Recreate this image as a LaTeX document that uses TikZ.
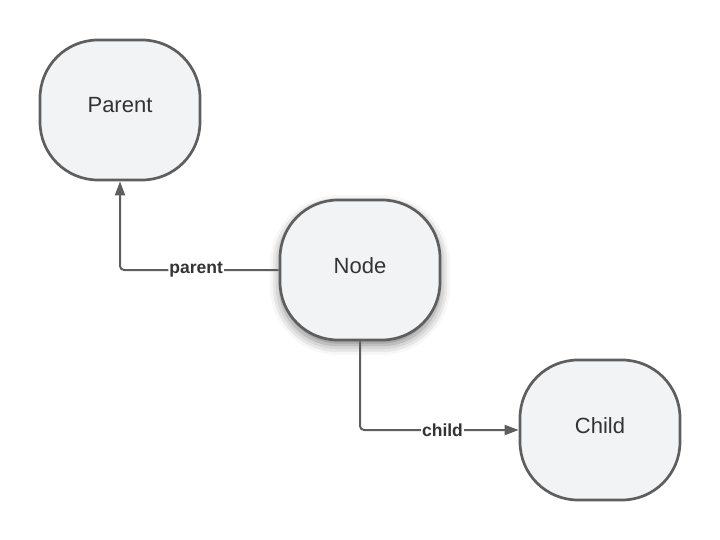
\documentclass[tikz,border=0pt]{standalone}
\usepackage{fontspec}
\setmainfont{Liberation Sans}
\usetikzlibrary{arrows.meta,shadows.blur}
\definecolor{boxfill}{HTML}{F2F3F5}
\definecolor{boxline}{HTML}{5E5E5E}
\definecolor{txtgray}{HTML}{333333}

\begin{document}
\begin{tikzpicture}[x=1pt,y=-1pt,
    state/.style={draw=boxline, line width=2.7pt, fill=boxfill, rounded corners=58pt,
        minimum width=160pt, minimum height=140pt, text=txtgray,
        text height=16pt, text depth=10pt, font=\fontsize{22}{26}\selectfont},
    link/.style={draw=boxline, line width=2pt, rounded corners=4pt,
        -{Triangle[length=14pt,width=10pt]}},
    tag/.style={fill=white, inner sep=1pt, text=txtgray,
        font=\bfseries\fontsize{17.5}{20}\selectfont}]
    \useasboundingbox (0,0) rectangle (720,540);

    \node [state] (parent) at (120,110) {Parent};
    \node [state, blur shadow={shadow xshift=0pt, shadow yshift=-5pt,
        shadow blur radius=10pt, shadow opacity=50}] (node) at (360,270) {Node};
    \node [state] (child) at (600,430) {Child};

    \draw [link] (node.west) -| node [tag, pos=0.26] {parent} (parent.south);
    \draw [link] (node.south) |- node [tag, pos=0.76] {child} (child.west);
\end{tikzpicture}
\end{document}
